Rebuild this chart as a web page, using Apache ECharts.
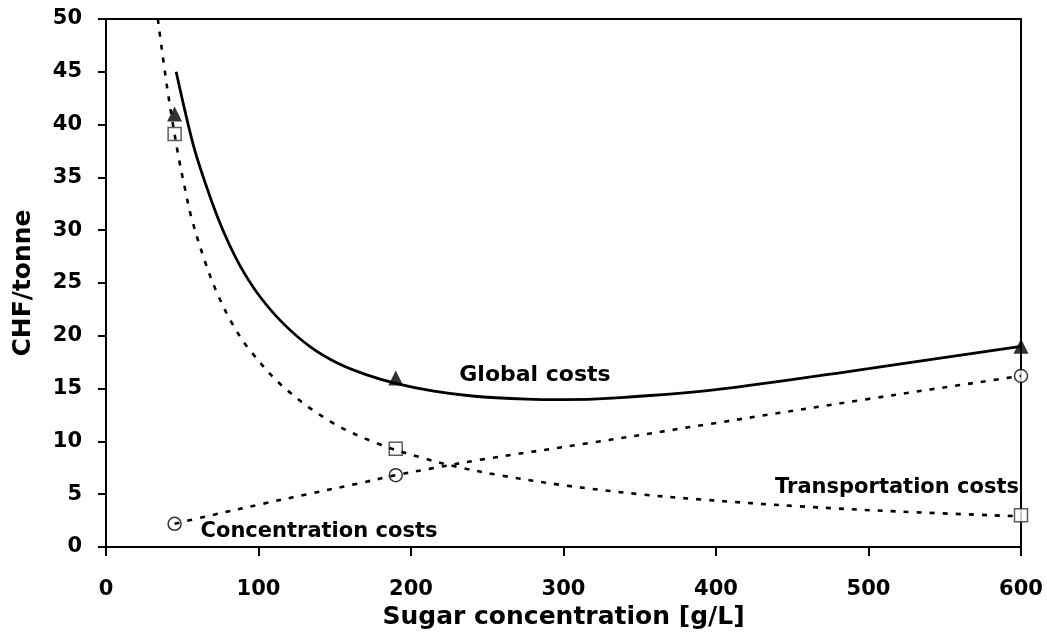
<!DOCTYPE html>
<html>
<head>
<meta charset="utf-8">
<script src="https://cdn.jsdelivr.net/npm/echarts@6/dist/echarts.min.js"></script>
<style>html,body{margin:0;padding:0;background:#fff}#c{width:1047px;height:637px}</style>
</head>
<body>
<div id="c"></div>
<script>
// Fitted curves
const globalCurve = [[46,45],[57,38.2],[65,34.5],[73,31.3],[81,28.6],[90,26.1],[101,23.7],[116,21.2],[134,18.95],[152,17.4],[171,16.3],[190,15.5],[215,14.75],[240,14.3],[276,14.0],[300,13.95],[332,14.1],[400,14.9],[500,16.9],[600,19.0]];
const transportCurve = [[34,50],[40,43.6],[47,37.4],[52,33.8],[56,31.2],[65,27.0],[73,24.0],[83,21.1],[94,18.7],[116,15.2],[147,11.9],[178,9.8],[206,8.5],[230,7.6],[260,6.75],[300,5.85],[350,5.0],[390,4.5],[455,3.85],[521,3.35],[600,2.9]];
const concentrationCurve = [[45,2.2],[66,2.9],[103,4.1],[132,5.0],[165,6.0],[190,6.8],[212,7.4],[247,8.3],[315,9.8],[398,11.7],[499,14.0],[586,15.9],[600,16.2]];
// Measured points
const globalPoints = [[45,41],[190,16],[600,19]];
const transportPoints = [[45,39.1],[190,9.3],[600,3.0]];
const concentrationPoints = [[45,2.2],[190,6.8],[600,16.2]];
const labels = {global:'Global costs', transport:'Transportation costs', concentration:'Concentration costs'};

const chart = echarts.init(document.getElementById('c'), null, {renderer:'canvas'});
const font = '"DejaVu Sans", sans-serif';
const dash = {type:[5,8], width:2.6, color:'#000'};
chart.setOption({
  animation:false,
  backgroundColor:'#fff',
  grid:{left:106,right:26,top:19,bottom:90,containLabel:false,outerBoundsMode:'none',show:true,borderColor:'#000',borderWidth:2},
  xAxis:{type:'value',min:0,max:600,interval:100,
    name:'Sugar concentration [g/L]',nameLocation:'middle',nameGap:51,
    nameTextStyle:{fontFamily:font,fontWeight:'bold',fontSize:25,color:'#000'},
    axisLine:{show:true,lineStyle:{color:'#000',width:2}},
    axisTick:{show:true,inside:false,length:9,lineStyle:{color:'#000',width:2}},
    axisLabel:{margin:32,fontFamily:font,fontWeight:'bold',fontSize:21,color:'#000'},
    splitLine:{show:false}},
  yAxis:{type:'value',min:0,max:50,interval:5,
    name:'CHF/tonne',nameLocation:'middle',nameGap:70,nameRotate:90,
    nameTextStyle:{fontFamily:font,fontWeight:'bold',fontSize:25,color:'#000'},
    axisLine:{show:true,lineStyle:{color:'#000',width:2}},
    axisTick:{show:true,inside:false,length:8,lineStyle:{color:'#000',width:2}},
    axisLabel:{margin:24,fontFamily:font,fontWeight:'bold',fontSize:21,color:'#000'},
    splitLine:{show:false}},
  series:[
    {type:'scatter',data:globalPoints,symbol:'triangle',symbolSize:15,itemStyle:{color:'#000'},z:1},
    {type:'scatter',data:transportPoints,symbol:'rect',symbolSize:13,itemStyle:{color:'#fff',borderColor:'#333',borderWidth:1.5},z:1},
    {type:'scatter',data:concentrationPoints,symbol:'circle',symbolSize:13,itemStyle:{color:'#fff',borderColor:'#000',borderWidth:1.5},z:1},
    {type:'line',data:globalCurve,smooth:0.35,showSymbol:false,lineStyle:{color:'#000',width:2.8},z:3},
    {type:'line',data:transportCurve,smooth:0.35,showSymbol:false,lineStyle:dash,z:3},
    {type:'line',data:concentrationCurve,smooth:0.35,showSymbol:false,lineStyle:dash,z:3}
  ],
  graphic:[
    {type:'text',x:535,y:375,style:{text:labels.global,font:'bold 22px '+font,fill:'#000',textAlign:'center',textVerticalAlign:'middle'}},
    {type:'text',x:897,y:488,style:{text:labels.transport,font:'bold 21px '+font,fill:'#000',textAlign:'center',textVerticalAlign:'middle'}},
    {type:'text',x:319,y:532,style:{text:labels.concentration,font:'bold 21px '+font,fill:'#000',textAlign:'center',textVerticalAlign:'middle'}}
  ]
});
</script>
</body>
</html>
